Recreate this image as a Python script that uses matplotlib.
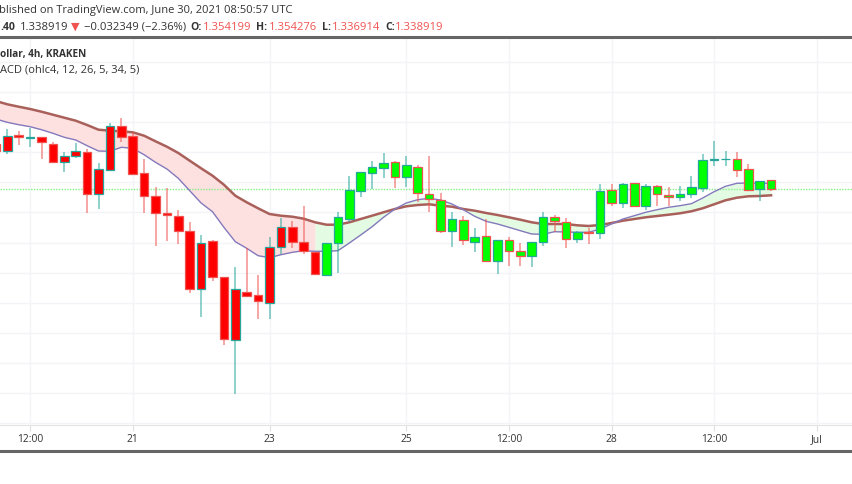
import matplotlib
matplotlib.use("Agg")
import matplotlib.pyplot as plt
from matplotlib.lines import Line2D
import numpy as np

plt.rcParams.update({"font.family": "Open Sans", "font.size": 8.1})

W, H = 852, 485
TEAL = "#26a69a"; PINK = "#ef5350"; RED = "#ff0000"; GREEN = "#00ff00"
TXT = "#333333"

# chart levels (no price axis is visible, axis runs downward)
opens = [145, 152, 135.7, 138.6, 138, 145.3, 162.7, 156.7, 152.7, 195, 171, 126.7, 137.3, 174, 197.3, 213.7,
         216.7, 232.3, 290, 242.3, 277.7, 340.7, 292.7, 296.3, 303.7, 247.7, 228.3, 243.3, 252.7, 275.7, 244.3,
         220.3, 191.7, 174.3, 168.7, 163.3, 177.7, 168.3, 194.7, 200.7, 232, 221, 242.7, 237.3, 261.7, 240.7,
         252, 257, 243.3, 218, 222.7, 240.3, 233, 234.3, 190.7, 203.7, 184.3, 207.3, 186.7, 195.7, 198,
         195, 188.7, 160.6, 160, 159.7, 170, 190.3, 181.3]
closes = [152, 136.7, 138.3, 138, 143.3, 163.3, 156.7, 152.3, 195, 170, 127.3, 138.3, 175.3, 197, 213.7, 216.3,
          232.3, 290, 243.7, 278, 339.7, 290.3, 296.7, 302, 248.3, 228, 243, 252.3, 275, 244.3, 218.3,
          191.3, 173, 168, 164, 178.3, 166.3, 194.3, 199.7, 232, 219.7, 241, 237.7, 261.7, 240.7, 252,
          257, 243.3, 218, 222, 240, 233, 233.6, 192.3, 203.7, 185, 207, 186.7, 195, 198, 195.3,
          188.3, 161, 160, 159.7, 171, 190.7, 182, 190.3]
highs = [145, 130, 132.3, 129.3, 137.7, 143.3, 153.3, 144.3, 150, 164, 124, 118.7, 132.7, 160, 188.3, 189.3,
         211, 223.3, 236, 241, 277.7, 268.3, 249.3, 275.7, 238.3, 219.3, 221.7, 207.3, 252.7, 244.3, 213.3,
         177.3, 173, 162.3, 154, 161.7, 157.3, 166, 156.7, 194, 213.3, 217.3, 229, 220, 240.7, 238.3,
         244, 243.3, 213.3, 216, 219.3, 232.3, 229.3, 185, 185, 184, 184.3, 185.3, 185.7, 188.3, 186.7,
         177.3, 154.7, 141.7, 152.3, 153.3, 165.3, 182, 181.3]
lows = [152, 154.7, 145.7, 147.7, 160, 163.3, 173.3, 159, 214, 210, 171, 142.7, 175.3, 214, 246.7, 241.7,
        244.7, 294, 318.3, 282, 346, 395, 297.3, 320, 320, 255, 249.3, 255, 275, 276.7, 274,
        223.3, 198.3, 190, 178.7, 189, 188, 202.7, 212.7, 234, 248, 245.7, 253, 261.7, 275, 267.3,
        267.3, 267.7, 246.7, 232.7, 249.3, 243.7, 245, 240, 207.3, 209, 208.3, 211, 206.7, 207.3, 201.7,
        199.3, 192.7, 166.7, 166.7, 177.7, 191, 201.7, 191.7]
slow = [102, 105.3, 107.7, 110, 112.7, 115.7, 118.7, 121.7, 126, 130.7, 131.7, 132.3, 133.3, 136.7, 142.3, 147.7,
        154, 161.7, 169.3, 176.7, 185.7, 196.7, 203.3, 209.3, 215, 216.7, 217.7, 219.7, 223.3, 225.7, 225.7,
        223.3, 220, 216.7, 213.3, 210, 207.3, 206, 205.3, 206.7, 207.7, 210, 211.7, 214, 216, 218.3,
        220.7, 223.3, 225, 225, 225, 226.3, 227, 226, 224, 221.7, 220, 218.3, 217, 215.7, 214.3,
        212.3, 209.3, 205.3, 201.3, 198.7, 197.3, 197, 196.3]
fast = [120, 123.3, 125.7, 127.7, 130.7, 134.3, 138.3, 141, 146.7, 152, 152.3, 148.3, 149.3, 155.7, 163.3, 170,
        179.3, 191.7, 204, 212.7, 228.3, 242.7, 249.3, 256.7, 258.7, 255.7, 253.3, 251.7, 252.3, 252.3, 251.7,
        244, 236, 227.7, 218.3, 210, 204, 200.7, 199.3, 201, 205, 210.7, 217.3, 222.3, 225, 228.3,
        231.7, 235, 235.3, 232.7, 233, 233.3, 233.3, 230, 225, 220, 216.7, 213.3, 210.7, 208.3, 206.7,
        204.7, 199, 192.7, 187.3, 184.3, 184, 184.3, 184.3]
last_close = 190
grid_levels = [63, 93, 123, 153, 183, 213, 244, 274, 304, 334, 364, 394, 424]
tick_pos = [2, 11, 23, 35, 44, 53, 62, 71]
tick_labels = ["12:00", "21", "23", "25", "12:00", "28", "12:00", "Jul"]
last_red_bar = 27

opens, closes, highs, lows = map(np.array, (opens, closes, highs, lows))
x = np.arange(-1, len(opens) - 1)

fig = plt.figure(figsize=(W / 100, H / 100), dpi=100)
ax = fig.add_axes([0, (H - 426) / H, 1, (426 - 38) / H])
ax.set_xlim(-7.3 / 11.4, (W - 7.3) / 11.4)
ax.set_ylim(426, 38)
ax.set_xticks(tick_pos); ax.set_xticklabels(tick_labels, color=TXT, fontsize=7.4)
ax.set_yticks(grid_levels); ax.set_yticklabels([])
ax.tick_params(axis="y", length=0)
ax.tick_params(axis="x", length=4, color="#e0e0e0", pad=2)
ax.grid(True, color="#f3f4f7", linewidth=1); ax.set_axisbelow(True)
for s in ["left", "right"]:
    ax.spines[s].set_visible(False)
ax.spines["bottom"].set_color("#e4e4e4")
ax.spines["top"].set_color("#666666"); ax.spines["top"].set_linewidth(2.2)
fig.add_artist(Line2D([0, 1], [(H - 452) / H] * 2, color="#666666", linewidth=2.2))

# indicator cloud and lines
ax.fill_between(x, fast, slow, where=x <= last_red_bar, color="#fde0e0", linewidth=0, zorder=1)
ax.fill_between(x, fast, slow, where=x >= last_red_bar, color="#e3fbe3", linewidth=0, zorder=1)
ax.axhline(last_close, color="#86f086", linewidth=1, linestyle=(0, (1, 1)), zorder=1.5)
ax.plot(x, slow, color="#a9605a", linewidth=1.8, zorder=2)
ax.plot(x, fast, color="#8479bd", linewidth=1.0, zorder=2)

# candles: wick/border follow direction, body fill follows the indicator
# (smaller level = higher on the chart)
up = closes < opens
edge = np.where(up, TEAL, PINK)
fill = np.where(x <= last_red_bar, RED, GREEN)
ax.vlines(x, highs, lows, colors=edge, linewidth=1.2, alpha=0.6, zorder=3)
ax.bar(x, np.abs(closes - opens), bottom=np.minimum(opens, closes), width=0.76,
       color=fill, edgecolor=edge, linewidth=0.9, zorder=4)


def put(px, py, s, **kw):
    fig.text(px / W, 1 - py / H, s, va="center", color=kw.pop("color", TXT), **kw)


put(-1, 11, "blished on TradingView.com, June 30, 2021 08:50:57 UTC", fontsize=8.0)
put(0, 27, ".40", fontweight="bold", fontsize=7.6)
put(20, 27, "1.338919")
put(71, 27, "▼", color=PINK, fontsize=8, family="DejaVu Sans")
put(84, 27, "−0.032349 (−2.36%)")
for lx, lab, vx, val in [(190, "O:", 203, "1.354199"), (256, "H:", 269, "1.354276"),
                         (322, "L:", 332, "1.336914"), (385, "C:", 395, "1.338919")]:
    put(lx, 27, lab, fontweight="bold", fontsize=7.6)
    put(vx, 27, val, color=PINK)
put(0, 54, "ollar, 4h, KRAKEN", fontweight="bold", fontsize=7.2)
put(0, 70, "ACD (ohlc4, 12, 26, 5, 34, 5)", fontsize=8.0)

fig.savefig("out.png", dpi=100)
